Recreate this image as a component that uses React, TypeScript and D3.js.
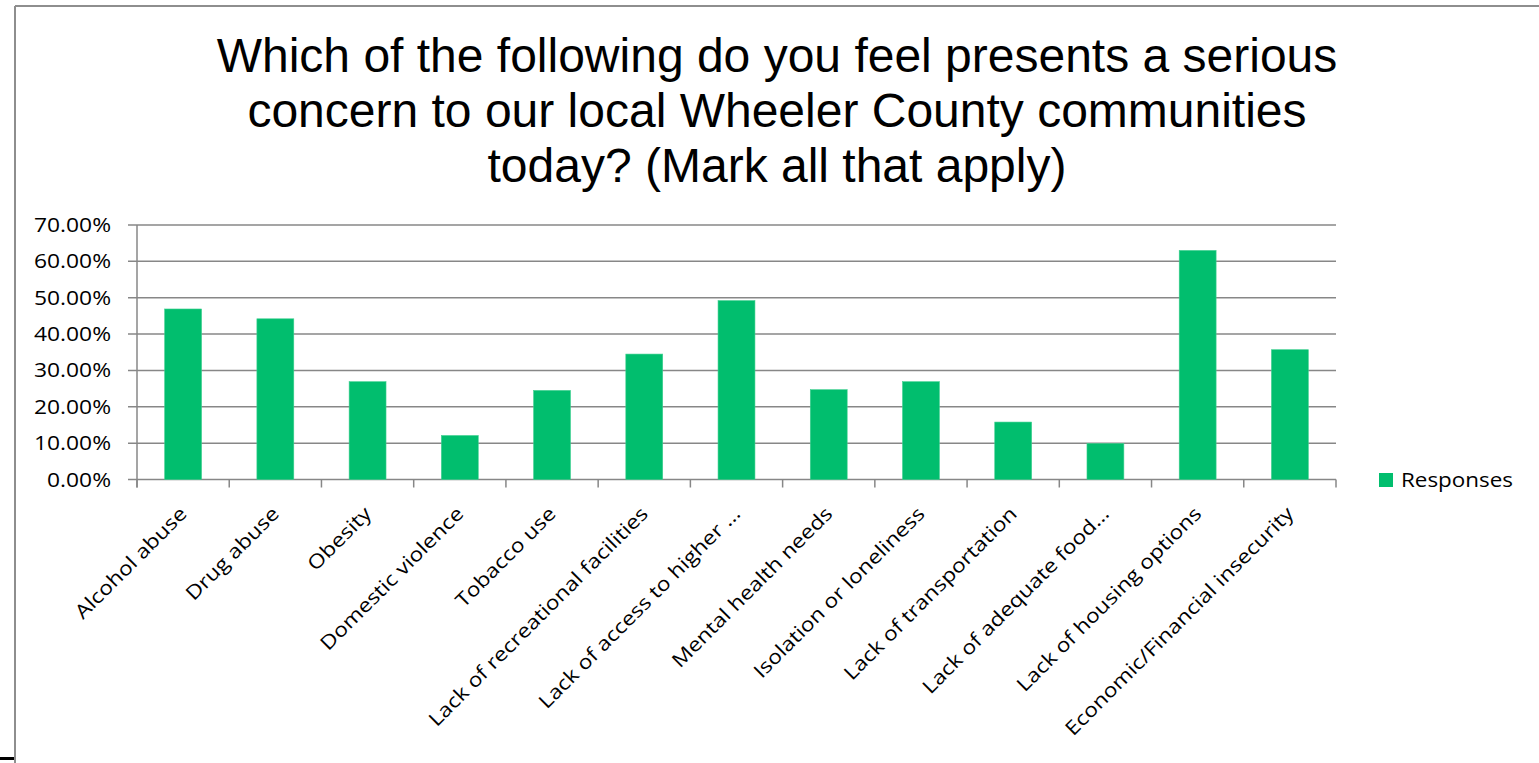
import React from "react";
import * as d3 from "d3";

const categories: string[] = [
  "Alcohol abuse",
  "Drug abuse",
  "Obesity",
  "Domestic violence",
  "Tobacco use",
  "Lack of recreational facilities",
  "Lack of access to higher …",
  "Mental health needs",
  "Isolation or loneliness",
  "Lack of transportation",
  "Lack of adequate food…",
  "Lack of housing options",
  "Economic/Financial insecurity",
];

const responses: number[] = [
  0.469, 0.442, 0.269, 0.121, 0.245, 0.345, 0.492, 0.247, 0.269, 0.158, 0.099,
  0.63, 0.357,
];

const yTicks: number[] = [0, 0.1, 0.2, 0.3, 0.4, 0.5, 0.6, 0.7];

const titleLines: string[] = [
  "Which of the following do you feel presents a serious",
  "concern to our local Wheeler County communities",
  "today? (Mark all that apply)",
];

const seriesName = "Responses";

const W = 1539;
const H = 763;
const GREEN = "#01BE6E";
const GRID = "#878787";
const LABEL_FONT = "'Open Sans', 'Noto Sans', sans-serif";
const FS = 19.5;
const SX = 1.17;

export default function App() {
  const x = d3
    .scaleBand<string>()
    .domain(categories)
    .range([137, 1336])
    .paddingInner(0.6)
    .paddingOuter(0.3);
  const y = d3.scaleLinear().domain([0, 0.7]).range([479.5, 225]);
  const step = x.step();
  const [r0, r1] = x.range();
  const boundaries = d3.range(categories.length + 1).map((i) => r0 + i * step);
  const fmt = (v: number) => (v * 100).toFixed(2) + "%";

  return (
    <svg
      width={W}
      height={H}
      style={{ position: "absolute", left: 0, top: 0, background: "#fff" }}
    >
      <rect x={0} y={0} width={W} height={H} fill="#fff" />
      {/* frame */}
      <line x1={15} x2={W} y1={6} y2={6} stroke="#8e8e8e" strokeWidth={2} />
      <line x1={15} x2={15} y1={6} y2={H} stroke="#8e8e8e" strokeWidth={2} />
      <line x1={0} x2={14} y1={758.5} y2={758.5} stroke="#000" strokeWidth={3} />

      {/* title */}
      <g fontFamily="'Liberation Sans', Arial, sans-serif" fontSize={48} fill="#000">
        {titleLines.map((t, i) => (
          <text key={i} x={777} y={71.5 + i * 55} textAnchor="middle">
            {t}
          </text>
        ))}
      </g>

      {/* gridlines and y ticks */}
      {yTicks.map((t) => (
        <line
          key={"g" + t}
          x1={128}
          x2={r1}
          y1={y(t)}
          y2={y(t)}
          stroke={GRID}
          strokeWidth={1.5}
        />
      ))}
      {/* y axis line */}
      <line x1={r0} x2={r0} y1={y(0.7)} y2={y(0) + 8} stroke={GRID} strokeWidth={1.5} />
      {/* x ticks */}
      {boundaries.map((b, i) => (
        <line key={"t" + i} x1={b} x2={b} y1={y(0)} y2={y(0) + 8} stroke={GRID} strokeWidth={1.5} />
      ))}

      {/* y labels */}
      <g fontFamily={LABEL_FONT} fontSize={FS} fill="#000">
        {yTicks.map((t) => (
          <text
            key={"l" + t}
            transform={`translate(111,${y(t) + 7}) scale(${SX},1)`}
            textAnchor="end"
          >
            {fmt(t)}
          </text>
        ))}
      </g>

      {/* bars */}
      {categories.map((c, i) => (
        <rect
          key={"b" + i}
          x={x(c)!}
          y={y(responses[i])}
          width={x.bandwidth()}
          height={y(0) - y(responses[i])}
          fill={GREEN}
          stroke="#3fd08f"
          strokeWidth={0.6}
        />
      ))}

      {/* x labels */}
      <g fontFamily={LABEL_FONT} fontSize={FS} fill="#000">
        {categories.map((c, i) => (
          <text
            key={"x" + i}
            transform={`translate(${x(c)! + x.bandwidth() / 2 + 5},515) rotate(-45) scale(${SX},1)`}
            textAnchor="end"
          >
            {c}
          </text>
        ))}
      </g>

      {/* legend */}
      <rect x={1379} y={473} width={14} height={14} fill={GREEN} />
      <text
        transform={`translate(1401,487) scale(1.15,1)`}
        fontFamily={LABEL_FONT}
        fontSize={FS}
        fill="#000"
      >
        {seriesName}
      </text>
    </svg>
  );
}
